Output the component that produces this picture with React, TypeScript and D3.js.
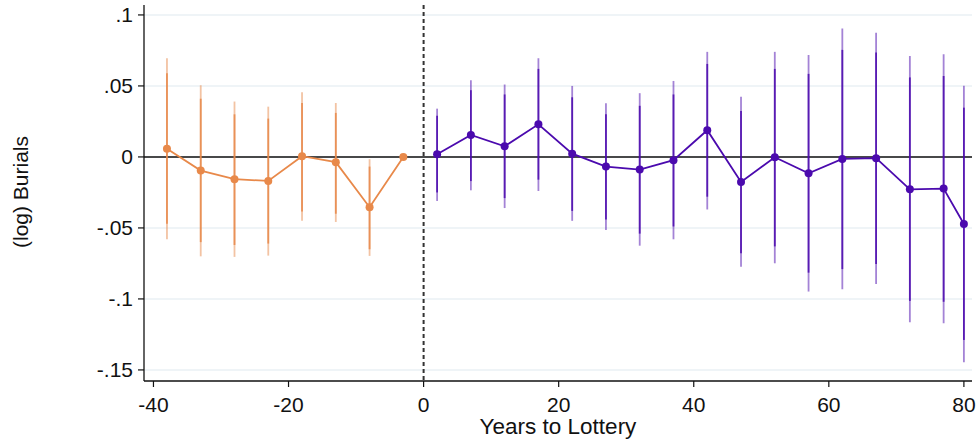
import { useRef, useEffect } from 'react';
import * as d3 from 'd3';

// pre-lottery estimates (orange)
const preYears = [-38, -33, -28, -23, -18, -13, -8, -3];
const preEst = [0.0058, -0.0096, -0.0157, -0.0169, 0.0005, -0.0037, -0.0354, 0];
const preHi95 = [0.0695, 0.0505, 0.039, 0.0354, 0.0456, 0.038, -0.0016, 0];
const preHi90 = [0.059, 0.041, 0.03, 0.027, 0.038, 0.031, -0.0068, 0];
const preLo90 = [-0.047, -0.06, -0.062, -0.061, -0.0385, -0.04, -0.065, 0];
const preLo95 = [-0.058, -0.07, -0.0704, -0.0695, -0.0449, -0.0458, -0.0697, 0];

// post-lottery estimates (purple)
const postYears = [2, 7, 12, 17, 22, 27, 32, 37, 42, 47, 52, 57, 62, 67, 72, 77, 80];
const postEst = [0.0019, 0.0155, 0.0075, 0.023, 0.0023, -0.0068, -0.0089, -0.0023, 0.0188, -0.0176, -0.0002, -0.0115, -0.0014, -0.0009, -0.0228, -0.0223, -0.0472];
const postHi95 = [0.034, 0.054, 0.051, 0.0695, 0.05, 0.0378, 0.0449, 0.0535, 0.074, 0.0423, 0.074, 0.0718, 0.0904, 0.0875, 0.0711, 0.0723, 0.0502];
const postHi90 = [0.029, 0.047, 0.044, 0.062, 0.042, 0.03, 0.036, 0.044, 0.0655, 0.0324, 0.062, 0.0585, 0.0754, 0.0735, 0.056, 0.057, 0.0347];
const postLo90 = [-0.025, -0.017, -0.029, -0.016, -0.038, -0.044, -0.054, -0.049, -0.028, -0.0678, -0.063, -0.0815, -0.079, -0.0754, -0.1014, -0.102, -0.1289];
const postLo95 = [-0.031, -0.0235, -0.036, -0.024, -0.045, -0.0514, -0.0625, -0.058, -0.037, -0.0773, -0.0749, -0.0948, -0.0932, -0.0894, -0.1164, -0.1171, -0.1446];

const xTicks = [-40, -20, 0, 20, 40, 60, 80];
const yTicks = [0.1, 0.05, 0, -0.05, -0.1, -0.15];
const yTickLabels = ['.1', '.05', '0', '-.05', '-.1', '-.15'];

const ORANGE = '#E8894A';
const PURPLE = '#4B0AAE';

export default function App() {
  const svgRef = useRef<SVGSVGElement>(null);

  useEffect(() => {
    if (!svgRef.current) return;
    const svg = d3.select(svgRef.current);
    svg.selectAll('*').remove();

    const left = 144, right = 972, top = 5, bottom = 381;
    const x = d3.scaleLinear().domain([-41.4, 81.2]).range([left, right]);
    const y = d3.scaleLinear().domain([0.107, -0.1578]).range([top, bottom]);
    const font = 'Liberation Sans, Arial, sans-serif';

    // Grid
    svg.append('g')
      .selectAll('line')
      .data(yTicks)
      .join('line')
      .attr('x1', left).attr('x2', right)
      .attr('y1', (d) => y(d)).attr('y2', (d) => y(d))
      .attr('stroke', '#EAF0F4').attr('stroke-width', 1.5);

    // Zero line
    svg.append('line')
      .attr('x1', left).attr('x2', right)
      .attr('y1', y(0)).attr('y2', y(0))
      .attr('stroke', '#111').attr('stroke-width', 1.5);

    // Dashed lottery line
    svg.append('line')
      .attr('x1', x(0)).attr('x2', x(0))
      .attr('y1', top).attr('y2', bottom)
      .attr('stroke', '#333').attr('stroke-width', 2)
      .attr('stroke-dasharray', '4,3');

    const series = [
      { years: preYears, est: preEst, hi95: preHi95, hi90: preHi90, lo90: preLo90, lo95: preLo95, color: ORANGE },
      { years: postYears, est: postEst, hi95: postHi95, hi90: postHi90, lo90: postLo90, lo95: postLo95, color: PURPLE },
    ];

    series.forEach((s) => {
      const g = svg.append('g');
      s.years.forEach((yr, i) => {
        if (s.hi95[i] === s.lo95[i]) return;
        // 95% CI (lighter)
        g.append('line')
          .attr('x1', x(yr)).attr('x2', x(yr))
          .attr('y1', y(s.hi95[i])).attr('y2', y(s.lo95[i]))
          .attr('stroke', s.color).attr('stroke-width', 1.8).attr('opacity', 0.5);
        // 90% CI
        g.append('line')
          .attr('x1', x(yr)).attr('x2', x(yr))
          .attr('y1', y(s.hi90[i])).attr('y2', y(s.lo90[i]))
          .attr('stroke', s.color).attr('stroke-width', 1.8).attr('opacity', 0.85);
      });
      const line = d3.line<number>()
        .x((_, i) => x(s.years[i]))
        .y((d) => y(d));
      g.append('path')
        .datum(s.est)
        .attr('d', line)
        .attr('fill', 'none')
        .attr('stroke', s.color)
        .attr('stroke-width', 1.8);
      g.selectAll('circle')
        .data(s.est)
        .join('circle')
        .attr('cx', (_, i) => x(s.years[i]))
        .attr('cy', (d) => y(d))
        .attr('r', 4)
        .attr('fill', s.color);
    });

    // Axes
    svg.append('line')
      .attr('x1', left).attr('x2', left).attr('y1', top).attr('y2', bottom)
      .attr('stroke', '#111').attr('stroke-width', 1.3);
    svg.append('line')
      .attr('x1', left).attr('x2', right).attr('y1', bottom).attr('y2', bottom)
      .attr('stroke', '#111').attr('stroke-width', 1.3);

    const yAxis = svg.append('g');
    yTicks.forEach((t, i) => {
      yAxis.append('line')
        .attr('x1', left - 6).attr('x2', left).attr('y1', y(t)).attr('y2', y(t))
        .attr('stroke', '#111').attr('stroke-width', 1.2);
      yAxis.append('text')
        .attr('x', left - 11).attr('y', y(t) + 7.5)
        .attr('text-anchor', 'end')
        .attr('font-family', font).attr('font-size', 21)
        .attr('fill', '#111')
        .text(yTickLabels[i]);
    });

    const xAxis = svg.append('g');
    xTicks.forEach((t) => {
      xAxis.append('line')
        .attr('x1', x(t)).attr('x2', x(t)).attr('y1', bottom).attr('y2', bottom + 6)
        .attr('stroke', '#111').attr('stroke-width', 1.2);
      xAxis.append('text')
        .attr('x', x(t)).attr('y', 412)
        .attr('text-anchor', 'middle')
        .attr('font-family', font).attr('font-size', 21)
        .attr('fill', '#111')
        .text(t);
    });

    svg.append('text')
      .attr('x', 558).attr('y', 434)
      .attr('text-anchor', 'middle')
      .attr('font-family', font).attr('font-size', 22.5)
      .attr('fill', '#111')
      .text('Years to Lottery');

    svg.append('text')
      .attr('transform', `translate(28, 192) rotate(-90)`)
      .attr('text-anchor', 'middle')
      .attr('font-family', font).attr('font-size', 21)
      .attr('fill', '#111')
      .text('(log) Burials');
  }, []);

  return (
    <svg
      ref={svgRef}
      width={977}
      height={441}
      style={{ position: 'absolute', left: 0, top: 0, background: '#fff' }}
    />
  );
}
